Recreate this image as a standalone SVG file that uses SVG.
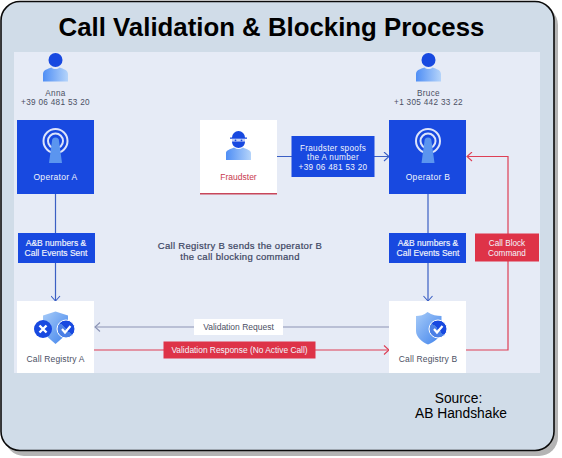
<svg xmlns="http://www.w3.org/2000/svg" width="562" height="458" viewBox="0 0 562 458">
<style>
text{font-family:"Liberation Sans",Arial,sans-serif;font-size:8.200px;text-anchor:middle}
.w{fill:#f2f5fc}.g{fill:#4b5064}.r{fill:#c8394e}.d{fill:#46506e}
.ls{letter-spacing:.3px}
.blue{fill:#1849e0}.red{fill:#de3348}.white{fill:#fff}
.lb{fill:none;stroke:#3b5fc4;stroke-width:1.2}
.lr{fill:none;stroke:#de3f55;stroke-width:1.2}
.lg{fill:none;stroke:#8b93b4;stroke-width:1.1}
.src{font-size:13.800px;fill:#000}
.t{font-size:25.800px;font-weight:700;fill:#000}
.n{font-size:9.500px;letter-spacing:.3px;fill:#3c4562;stroke:#3c4562;stroke-width:.2}
.m{font-size:8.500px;stroke:#f2f5fc;stroke-width:.15}
</style>
<defs>
<linearGradient id="p" x1="0" y1="0" x2="1" y2="0"><stop offset="0" stop-color="#4f8ef5"/><stop offset="1" stop-color="#b5d4fa"/></linearGradient>
<linearGradient id="s" x1="0" y1="0" x2="1" y2="1"><stop offset="0" stop-color="#a8ccf8"/><stop offset="1" stop-color="#3f82ec"/></linearGradient>
<linearGradient id="c" x1="0" y1="1" x2="1" y2="0"><stop offset=".5" stop-color="#4a7fe6"/><stop offset=".5" stop-color="#1849e0"/></linearGradient>
<g id="person"><circle cx="0" cy="-8" r="7" fill="#1849e0"/><path d="M-12.500 13.500V6C-12.500 2-8 1-4 -.5C-2 1.500 2 1.500 4 -.5C8 1 12.500 2 12.500 6V13.500Z" fill="url(#p)"/></g>
<g id="tower"><circle r="12" fill="none" stroke="#fff" stroke-opacity=".85" stroke-width="2"/><circle r="7.500" fill="none" stroke="#fff" stroke-opacity=".85" stroke-width="2"/><path d="M-3.500 0A3.500 3.500 0 0 1 3.500 0L6.500 22H-6.500Z" fill="#5b95ef"/></g>
<marker id="ab" markerWidth="10" markerHeight="10" refX="7" refY="5" orient="auto" markerUnits="userSpaceOnUse"><path d="M2 .5L7 5L2 9.500" fill="none" stroke="#3b5fc4" stroke-width="1.1"/></marker>
<marker id="ar" markerWidth="10" markerHeight="10" refX="7" refY="5" orient="auto" markerUnits="userSpaceOnUse"><path d="M2 .5L7 5L2 9.500" fill="none" stroke="#de3f55" stroke-width="1.1"/></marker>
<marker id="ag" markerWidth="10" markerHeight="10" refX="7" refY="5" orient="auto" markerUnits="userSpaceOnUse"><path d="M2 .5L7 5L2 9.500" fill="none" stroke="#8b93b4" stroke-width="1.1"/></marker>
</defs>
<rect x="5" y="6" width="553" height="450" rx="19" fill="#b4b4b4"/>
<rect x="1" y="1.500" width="553" height="449" rx="19" fill="#d0dce8" stroke="#0a0a0a" stroke-width="1.600"/>
<rect x="14" y="52" width="526" height="321" fill="#e6ebf6"/>
<text id="title" class="t" x="271.500" y="35.500">Call Validation &amp; Blocking Process</text>
<g id="connectors">
<path class="lb" d="M55.500 194V301" marker-end="url(#ab)"/>
<path class="lb" d="M428 194V301" marker-end="url(#ab)"/>
<path class="lb" d="M277 156.500H389" marker-end="url(#ab)"/>
<path class="lr" d="M466 350H508V156.500H467" marker-end="url(#ar)"/>
<path class="lg" d="M389 327H95" marker-end="url(#ag)"/>
<path class="lr" d="M94 350H389" marker-end="url(#ar)"/>
</g>
<g id="anna"><use href="#person" x="55.500" y="68"/><text class="g ls" x="55.500" y="95.500">Anna</text><text class="g ls" x="55.500" y="105">+39 06 481 53 20</text></g>
<g id="bruce"><use href="#person" x="428.500" y="68"/><text class="g ls" x="428.500" y="95.500">Bruce</text><text class="g ls" x="428.500" y="105">+1 305 442 33 22</text></g>
<g id="operator-a"><rect class="blue" x="17" y="120" width="77" height="74"/><use href="#tower" x="55.500" y="141"/><text class="w ls" x="55.500" y="180" style="font-size:8.500px">Operator A</text></g>
<g id="operator-b"><rect class="blue" x="389" y="120" width="77" height="74"/><use href="#tower" x="428" y="141"/><text class="w ls" x="428" y="180" style="font-size:8.500px">Operator B</text></g>
<g id="fraudster"><rect class="white" x="200" y="120" width="77" height="74"/><rect x="200" y="193" width="77" height="1.500" fill="#c8465a"/>
<path d="M226 160V153C226 150 230 149.500 234 147.500C237 149.500 240 149.500 243 147.500C247 149.500 251 150 251 153V160Z" fill="url(#p)"/>
<path d="M232 137.500A6.500 6.500 0 0 1 245 137.500H247V138.800H230V137.500Z" fill="#1849e0"/><path d="M232 141.500H245C245 150 232 150 232 141.500Z" fill="#1849e0"/><rect x="232" y="139" width="13" height="2.500" fill="#1849e0" opacity=".25"/><circle cx="235.500" cy="140.300" r=".9" fill="#1849e0"/><circle cx="241.500" cy="140.300" r=".9" fill="#1849e0"/><text class="r" x="238.500" y="180" style="font-size:8.500px">Fraudster</text></g>
<g id="spoof-label"><rect class="blue" x="291.500" y="136" width="83" height="41"/><text class="w ls" x="333" y="150.500">Fraudster spoofs</text><text class="w ls" x="333" y="160">the A number</text><text class="w ls" x="333" y="169.500">+39 06 481 53 20</text></g>
<g id="events-a"><rect class="blue" x="18" y="233" width="77" height="30"/><text class="w m" x="56" y="246">A&amp;B numbers &amp;</text><text class="w m" x="56" y="255.800">Call Events Sent</text></g>
<g id="events-b"><rect class="blue" x="389" y="233" width="77" height="30"/><text class="w m" x="428" y="246">A&amp;B numbers &amp;</text><text class="w m" x="428" y="255.800">Call Events Sent</text></g>
<g id="block-label"><rect class="red" x="475" y="233.500" width="64" height="28"/><text class="w" x="507" y="246">Call Block</text><text class="w" x="507" y="255.500">Command</text></g>
<g id="note"><text class="n" x="240" y="249">Call Registry B sends the operator B</text><text class="n" x="240" y="260">the call blocking command</text></g>
<g id="registry-a"><rect class="white" x="17" y="301" width="77" height="72"/><path d="M55.500 311.500L68 315.500V333L55.500 344L43 333V315.500Z" fill="url(#s)"/><circle cx="43" cy="329" r="9" fill="#1849e0"/><path d="M39.500 325.500L46.500 332.500M46.500 325.500L39.500 332.500" stroke="#fff" stroke-width="2.400"/><circle cx="66" cy="329" r="9" fill="url(#c)" stroke="#fff" stroke-width="1"/><path d="M62 329L65 332.500L70.500 326" fill="none" stroke="#fff" stroke-width="2.200"/><text class="g ls" x="55.500" y="362" style="font-size:8.500px;letter-spacing:.15px">Call Registry A</text></g>
<g id="registry-b"><rect class="white" x="389" y="301" width="77" height="72"/><path d="M427.500 312C432 315 437 316 441.500 316V331C441.500 337 434 342 428 344.500C422 342 416 337 416 331V316C420 316 424 315 427.500 312Z" fill="url(#s)"/><circle cx="438" cy="329" r="9" fill="url(#c)" stroke="#fff" stroke-width="1"/><path d="M434 329L437 332.500L442.500 326" fill="none" stroke="#fff" stroke-width="2.200"/><text class="g ls" x="428" y="362" style="font-size:8.500px;letter-spacing:.15px">Call Registry B</text></g>
<g id="validation-request"><rect class="white" x="194" y="319" width="89" height="16"/><text class="g" x="238.500" y="329.800" style="font-size:8.500px">Validation Request</text></g>
<g id="validation-response"><rect class="red" x="163.500" y="341.500" width="152" height="17"/><text class="w" x="239.500" y="352.800" style="font-size:8.400px">Validation Response (No Active Call)</text></g>
<g id="source"><text class="src" x="458.500" y="403">Source:</text><text class="src" x="461" y="418">AB Handshake</text></g>
</svg>
